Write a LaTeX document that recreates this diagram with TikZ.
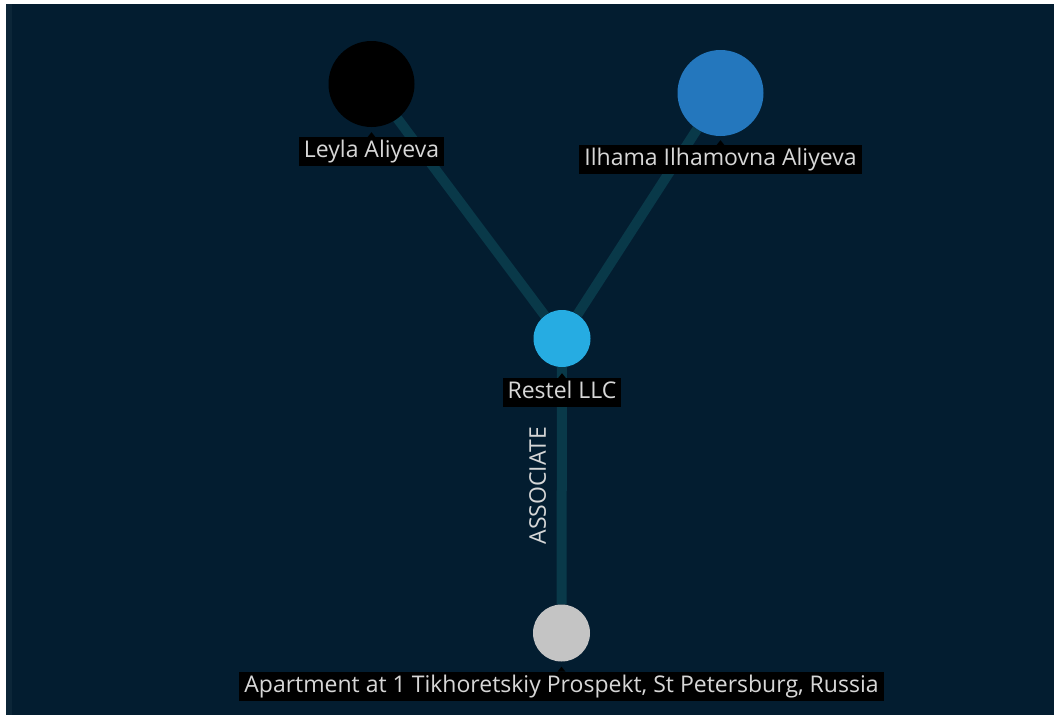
\documentclass[tikz,border=0pt]{standalone}
\usepackage{fontspec}
\setmainfont{Open Sans}
\usetikzlibrary{backgrounds, calc, positioning}

\definecolor{navy}{RGB}{3,29,48}
\definecolor{navystrip}{RGB}{12,38,56}
\definecolor{linkteal}{RGB}{9,57,73}
\definecolor{tagtext}{RGB}{215,215,215}
\definecolor{personblue}{RGB}{36,119,189}
\definecolor{firmblue}{RGB}{38,172,226}
\definecolor{flatgray}{RGB}{196,196,196}

\begin{document}
\begin{tikzpicture}[x=1pt, y=-1pt,
	entity/.style={circle, inner sep=0pt, minimum size=#1},
	tag/.style={fill=black, text=tagtext, font=\fontsize{23}{26}\selectfont,
		inner xsep=5pt, inner ysep=3pt, text height=17.5pt, text depth=5.5pt},
	link/.style={linkteal, line width=10pt}]

	% --- canvas: white rim on top and left, dark panel
	\useasboundingbox (0,0) rectangle (1054,715);
	\scoped[on background layer]\fill[white] (0,0) rectangle (1054,715);
	\scoped[on background layer]\fill[navy] (6,4) rectangle (1054,715);
	\scoped[on background layer]\fill[navystrip] (6,4) rectangle (12,715);

	% --- entities
	\node[entity=86pt, fill=black] (leyla) at (371.5,84) {};
	\node[entity=86pt, fill=personblue] (ilhama) at (720.5,93) {};
	\node[entity=57pt, fill=firmblue] (restel) at (562,338.5) {};
	\node[entity=57pt, fill=flatgray] (flat) at (561.5,633) {};

	% --- name tags
	\node[tag, below=10pt of leyla] (leylatag) {Leyla Aliyeva};
	\node[tag, below=9pt of ilhama] (ilhamatag) {Ilhama Ilhamovna Aliyeva};
	\node[tag, below=11pt of restel] (resteltag) {Restel LLC};
	\node[tag, below=10pt of flat] (flattag)
		{Apartment at 1 Tikhoretskiy Prospekt, St Petersburg, Russia};

	% little pointers on top of the tags
	\foreach \t in {leylatag, ilhamatag, resteltag, flattag}
		\fill[black] ($(\t.north)+(-4,0)$) -- ($(\t.north)+(0,-5)$)
			-- ($(\t.north)+(4,0)$) -- cycle;

	% --- links, kept behind everything
	\scoped[on background layer]{
		\draw[link] (leyla) -- (restel);
		\draw[link] (ilhama) -- (restel);
		\draw[link] (restel) -- (flat)
			node[midway, xshift=-16pt, rotate=90, anchor=base, inner sep=0pt,
				text=tagtext, font=\fontsize{23}{26}\selectfont] (assoc) {ASSOCIATE};
	}
\end{tikzpicture}
\end{document}
